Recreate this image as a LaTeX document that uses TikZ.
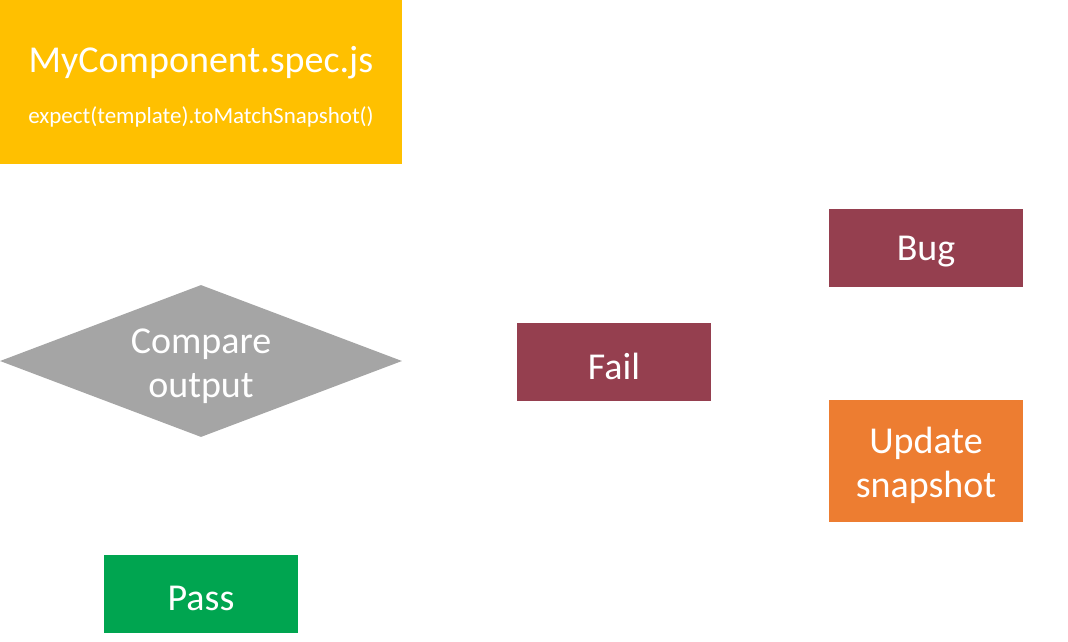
\documentclass[tikz,border=0pt]{standalone}
\usepackage{fontspec}
\setmainfont{Carlito}
\usetikzlibrary{shapes.geometric}
\definecolor{cyellow}{HTML}{FFC000}
\definecolor{cred}{HTML}{953F4F}
\definecolor{corange}{HTML}{ED7D31}
\definecolor{cgreen}{HTML}{00A550}
\definecolor{cgrey}{HTML}{A5A5A5}
\tikzset{
  box/.style={draw=none, inner sep=0pt, text=white, align=center,
    font=\fontsize{38}{44}\selectfont, minimum width=194pt, minimum height=78pt},
  lbl/.style={text=white, align=center, font=\fontsize{38}{44}\selectfont},
}
\begin{document}
\begin{tikzpicture}[x=1pt,y=-1pt]
\useasboundingbox (0,0) rectangle (1068,642);
% spec box
\fill[cyellow] (0,0) rectangle (402,164);
\node[lbl] (spec) at (201,63) {MyComponent.spec.js};
\node[text=white, font=\fontsize{23}{27}\selectfont] (expect) at (201,117) {expect(template).toMatchSnapshot()};
% diamond
\node[diamond, fill=cgrey, inner sep=0pt, minimum width=402pt, minimum height=152pt, aspect=2.645] (cmp) at (201,361) {};
\node[lbl] (cmptxt) at (201,366) {Compare\\output};
% boxes
\node[box, fill=cred] (bug) at (926,248) {};
\node[lbl] (bugtxt) at (926,252) {Bug};
\node[box, fill=cred] (fail) at (614,362) {};
\node[lbl] (failtxt) at (614,366) {Fail};
\node[box, fill=corange, minimum height=122pt] (upd) at (926,461) {};
\node[lbl] (updtxt) at (926,465) {Update\\snapshot};
\node[box, fill=cgreen] (pass) at (201,594) {};
\node[lbl] (passtxt) at (201,598) {Pass};
\end{tikzpicture}
\end{document}
